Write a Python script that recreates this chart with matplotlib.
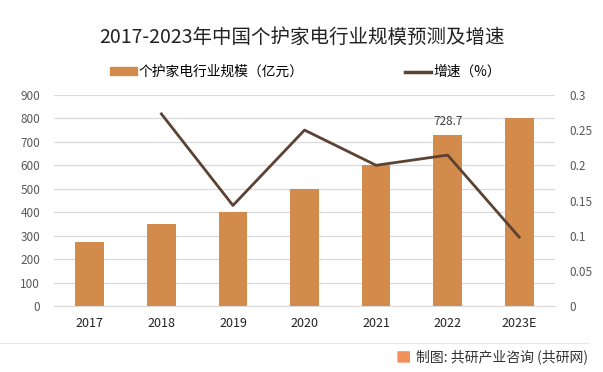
import numpy as np
import matplotlib
matplotlib.use("Agg")
import matplotlib.pyplot as plt
from matplotlib.patches import FancyBboxPatch
from matplotlib.lines import Line2D

plt.rcParams['font.family'] = ['Noto Sans CJK SC', 'DejaVu Sans']

# data
years = ['2017', '2018', '2019', '2020', '2021', '2022', '2023E']
scale = [275, 350, 400, 500, 600, 728.7, 800]
growth_years = ['2018', '2019', '2020', '2021', '2022', '2023E']
growth = [0.273, 0.143, 0.25, 0.2, 0.2145, 0.098]

bar_color = '#D38B4C'
line_color = '#5C4232'
grid_color = '#D9D9D9'
tick_color = '#595959'

fig = plt.figure(figsize=(6.03, 3.72), dpi=100)
ax = fig.add_axes([0.0896, 0.177, 0.8308, 0.568])
ax2 = ax.twinx()

x = np.arange(len(years))
ax.bar(x, scale, width=0.4, color=bar_color, zorder=2)
ax.set_xlim(-0.5, len(years) - 0.5)
ax.set_ylim(0, 900)
ax.set_yticks(np.arange(0, 901, 100))
ax.set_xticks(x)
ax.set_xticklabels(years)
ax.yaxis.grid(True, color=grid_color, linewidth=0.9, zorder=0)
ax.set_axisbelow(True)
for s in ['top', 'right', 'left']:
    ax.spines[s].set_visible(False)
ax.spines['bottom'].set_color(grid_color)
ax.tick_params(axis='both', length=0)
ax.tick_params(axis='y', colors=tick_color, labelsize=8.5, pad=10)
ax.tick_params(axis='x', colors='#222222', labelsize=9, pad=8)

ax.annotate('728.7', (5, scale[5]), xytext=(0, 5), textcoords='offset points',
            ha='center', va='bottom', fontsize=8.5, color='#404040')

gx = [years.index(y) for y in growth_years]
ax2.plot(gx, growth, color=line_color, linewidth=2, zorder=3)
ax2.set_ylim(0, 0.3)
ax2.set_yticks([0, 0.05, 0.1, 0.15, 0.2, 0.25, 0.3])
ax2.set_yticklabels(['0', '0.05', '0.1', '0.15', '0.2', '0.25', '0.3'])
ax2.tick_params(axis='y', length=0, labelsize=8.5, colors=tick_color, pad=10)
for s in ['top', 'right', 'left', 'bottom']:
    ax2.spines[s].set_visible(False)

fig.text(0.5, 0.9, '2017-2023年中国个护家电行业规模预测及增速', ha='center', va='center',
         fontsize=14, color='#222222')

handles = [plt.Rectangle((0, 0), 1, 1, color=bar_color),
           Line2D([0], [0], color=line_color, linewidth=2.5)]
labels = ['个护家电行业规模（亿元）', '增速（%）']
fig.legend(handles, labels, loc='center', bbox_to_anchor=(0.507, 0.806), ncol=2,
           frameon=False, fontsize=9.9, handlelength=1.9, handleheight=0.5,
           handletextpad=0.15, columnspacing=7.4)

# footer
fig.add_artist(Line2D([0.0, 0.975], [0.078, 0.078], color='#E6E6E6', linewidth=0.8))
fig.add_artist(FancyBboxPatch((0.661, 0.027), 0.017, 0.027, boxstyle='round,pad=0.002',
                              facecolor='#F0915A', edgecolor='none', transform=fig.transFigure))
fig.text(0.975, 0.04, '制图: 共研产业咨询 (共研网)', ha='right', va='center',
         fontsize=10, color='#333333')

fig.savefig('out.png', dpi=100)
